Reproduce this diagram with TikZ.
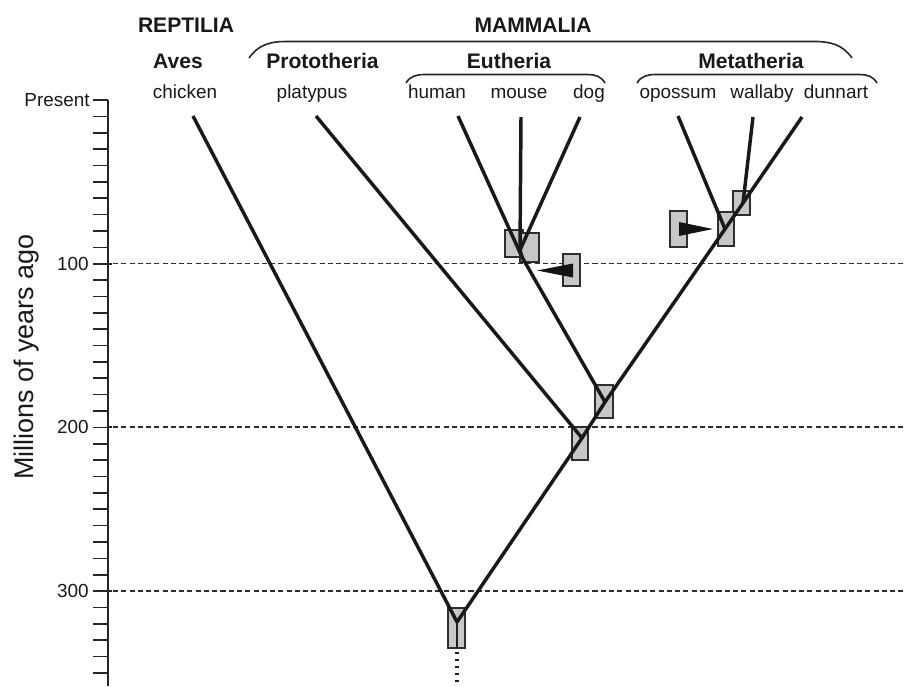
\documentclass[tikz,border=0pt]{standalone}
\usepackage{fontspec}
\setmainfont{Liberation Sans}
\begin{document}
\begin{tikzpicture}[x=0.75pt,y=-0.75pt,
  tree/.style={line width=2.6pt,draw=black!90,line join=round},
  jbox/.style={draw=black!82,fill=black!22,line width=1.3pt},
  gridline/.style={line width=1.1pt,draw=black!82,dash pattern=on 3.8pt off 2.4pt},
  axisline/.style={line width=1.5pt,draw=black!85},
  tick/.style={line width=1.2pt,draw=black!85},
  brace/.style={line width=1.2pt,draw=black!85},
  species/.style={font=\fontsize{14.2}{16}\selectfont,anchor=base,inner sep=0pt,text=black!90},
  group/.style={font=\bfseries\fontsize{15.8}{18}\selectfont,anchor=base,inner sep=0pt,text=black!90},
  ticklabel/.style={font=\fontsize{14.2}{16}\selectfont,anchor=east,inner sep=0pt,text=black!90},
  wedge/.style={fill=black!92}
]
\useasboundingbox (0,0) rectangle (906,686);

% axis
\draw[axisline] (108,100) -- (108,686);
\draw[tick] (93,100) -- (108,100);
\foreach \m in {1,...,35}{
  \draw[tick] (93,{100+16.37*\m}) -- (108,{100+16.37*\m});
}
\draw[tick] (108,263.7) -- (112,263.7);
\draw[tick] (108,427.1) -- (112,427.1);
\draw[tick] (108,591.1) -- (112,591.1);

\node[ticklabel] (present) at (90,100) {Present};
\node[ticklabel] (l100) at (89,263.7) {100};
\node[ticklabel] (l200) at (89,427.1) {200};
\node[ticklabel] (l300) at (89,591.1) {300};
\node[font=\fontsize{20.2}{22}\selectfont,rotate=90,anchor=base,inner sep=0pt,text=black!90] (ylab) at (33,357) {Millions of years ago};

% dashed time lines
\draw[gridline] (113,263.7) -- (906,263.7);
\draw[gridline] (113,427.1) -- (906,427.1);
\draw[gridline] (113,591.1) -- (906,591.1);

% labels
\node[group] (rept) at (186,32) {REPTILIA};
\node[group] (mamm) at (533,32) {MAMMALIA};
\node[group] (aves) at (178,68) {Aves};
\node[group] (proto) at (322.5,68) {Prototheria};
\node[group] (euth) at (509,68) {Eutheria};
\node[group] (meta) at (751,68) {Metatheria};

\node[species] (chicken) at (185,98) {chicken};
\node[species] (platypus) at (312,98) {platypus};
\node[species] (human) at (437,98) {human};
\node[species] (mouse) at (519,98) {mouse};
\node[species] (dog) at (589,98) {dog};
\node[species] (opossum) at (678,98) {opossum};
\node[species] (wallaby) at (762,98) {wallaby};
\node[species] (dunnart) at (836,98) {dunnart};

% braces
\draw[brace] (249,58) to[out=55,in=180] (285,41.5) -- (815,41.5) to[out=0,in=125] (852,58);
\draw[brace] (406,83) to[out=60,in=180] (425,74.5) -- (588,74.5) to[out=0,in=120] (605,83);
\draw[brace] (637,83) to[out=60,in=180] (656,74.5) -- (860,74.5) to[out=0,in=120] (877,83);

% coordinates
\coordinate (chickenT) at (193,116);
\coordinate (platypusT) at (316,116);
\coordinate (humanT) at (458,116);
\coordinate (mouseT) at (521,117);
\coordinate (dogT) at (580,117);
\coordinate (opossumT) at (678,116);
\coordinate (wallabyT) at (753,117);
\coordinate (dunnartT) at (802,117);

\coordinate (root) at (457,622);
\coordinate (jP) at (582,438);
\coordinate (jEM) at (605,402);
\coordinate (jE) at (522,257);
\coordinate (jMD) at (520,250);
\coordinate (jOP) at (725,229);
\coordinate (jWD) at (743,203);
\coordinate (rootB) at (457,648);
\coordinate (rootD) at (457,652);
\coordinate (rootE) at (457,686);

% boxes
\draw[jbox] (448,608) rectangle (465,648);
\draw[jbox] (572,427) rectangle (588,460);
\draw[jbox] (595,385) rectangle (613,418);
\draw[jbox] (505,230) rectangle (523,257);
\draw[jbox] (520,233) rectangle (539,262);
\draw[jbox] (563,254) rectangle (580,286);
\draw[jbox] (733,191) rectangle (750,215);
\draw[jbox] (718,212) rectangle (734,246);
\draw[jbox] (670,211) rectangle (687,247);

% tree
\draw[tree] (chickenT) -- (root);
\draw[tree] (root) -- (jP) -- (jEM) -- (jOP) -- (jWD) -- (dunnartT);
\draw[tree] (platypusT) -- (jP);
\draw[tree] (jEM) -- (jE);
\draw[tree] (humanT) -- (jE);
\draw[tree] (mouseT) -- (jMD) -- (jE);
\draw[tree] (dogT) -- (jMD);
\draw[tree] (opossumT) -- (jOP);
\draw[tree] (wallabyT) -- (jWD);
\draw[line width=1.8pt,draw=black!88] (root) -- (rootB);
\draw[line width=2.3pt,draw=black!88,dash pattern=on 1.8pt off 3.4pt] (rootD) -- (rootE);

% wedges
\fill[wedge] (537,270.5) -- (573,263.5) -- (573,277.5) -- cycle;
\fill[wedge] (713,229) -- (679,222) -- (679,236) -- cycle;
\end{tikzpicture}
\end{document}
